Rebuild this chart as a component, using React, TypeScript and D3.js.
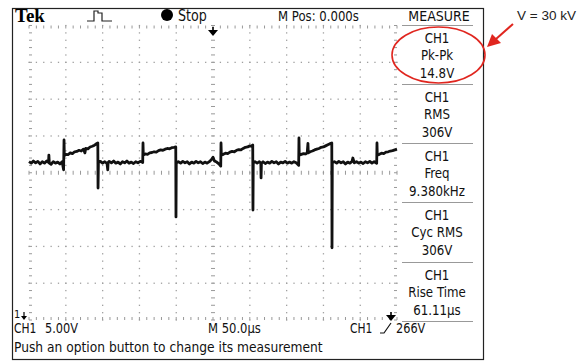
import React, { useEffect, useRef } from "react";
import * as d3 from "d3";

const W = 582;
const H = 363;

// CH1 trace: time in µs (50 µs/div), level in volts (5 V/div)
const trace: [number, number][] = [
  [0, 1.5], [3, 1.3], [6, 1.6], [9, 1.35], [12, 1.55], [15, 1.2], [18, 1.5], [21, 1.3], [24, 1.6],
  [26.5, 1.4], [27, 2.4], [27.6, 1.3], [30, 1.15], [33, 1.5], [36, 1.3], [39, 1.45], [42, 1.2],
  [45, 1.5], [47, 0.4], [47.6, 4.45], [48, 2.3], [50, 2.5], [53, 2.45], [56, 2.7], [59, 2.6],
  [62, 2.85], [65, 2.9], [68, 3.05], [71, 2.95], [74, 3.2], [76, 2.7], [77, 3.3], [80, 3.25],
  [83, 3.5], [86, 3.6], [89, 3.75], [91, 3.9], [93.5, 4.05], [93.8, -2.07], [94.3, 1.4],
  [97, 1.55], [100, 1.3], [103, 1.5], [106, 1.25], [107, 0.4], [107.5, 1.4], [109, 1.55],
  [112, 1.35], [115, 1.6], [118, 1.3], [121, 1.45], [124, 1.2], [127, 1.5], [130, 1.35],
  [133, 1.6], [136, 1.3], [139, 1.45], [142, 1.25], [145, 1.5], [148, 1.35], [151, 1.55],
  [154.5, 1.4], [154.9, 4.04], [155.3, 2.4], [158, 2.55], [161, 2.5], [164, 2.7], [167, 2.75],
  [170, 2.85], [173, 2.8], [176, 3.0], [179, 3.1], [182, 3.05], [185, 3.2], [188, 3.3],
  [191, 3.25], [194, 3.4], [197, 3.45], [199.4, 3.5], [199.7, -6.0], [200.1, 1.3],
  [203, 1.5], [206, 1.3], [209, 1.55], [212, 1.35], [215, 1.5], [218, 1.2], [221, 1.45],
  [224, 1.3], [227, 1.55], [230, 1.35], [233, 1.5], [236, 1.25], [239, 1.45], [242, 1.3],
  [245, 1.5], [248, 1.8], [250, 2.1], [252, 1.6], [255, 1.45], [258, 1.2], [260.5, 0.9],
  [260.9, 4.04], [261.3, 2.4], [264, 2.5], [267, 2.65], [270, 2.6], [273, 2.8], [276, 2.9],
  [279, 2.85], [282, 3.05], [285, 3.15], [288, 3.1], [291, 3.3], [294, 3.45], [297, 3.5],
  [300, 3.65], [302, 3.6], [304, 3.77], [304.3, -5.06], [304.7, 1.4],
  [307, 1.5], [310, 1.3], [313, 1.5], [315, 1.3], [315.3, -0.7], [315.8, 1.3], [318, 1.5],
  [321, 1.25], [324, 1.45], [327, 1.3], [330, 1.55], [333, 1.35], [336, 1.5], [339, 1.2],
  [342, 1.45], [345, 1.35], [348, 1.55], [351, 1.3], [354, 1.45], [357, 1.3], [360, 1.5],
  [363, 1.35], [366.4, 1.0], [366.8, 4.72], [367.2, 2.4], [370, 2.5], [373, 2.6], [376, 2.55],
  [378, 2.7], [379, 4.0], [379.5, 2.7], [382, 2.85], [385, 2.95], [388, 3.1], [391, 3.2],
  [394, 3.3], [397, 3.45], [400, 3.5], [403, 3.65], [406, 3.8], [409, 3.95], [411.4, 4.04],
  [411.7, -10.2], [412.1, 1.4],
  [415, 1.5], [418, 1.3], [421, 1.55], [424, 1.35], [427, 1.5], [430, 1.2], [433, 1.45],
  [436, 1.3], [439, 1.55], [440, 2.0], [442, 1.35], [445, 1.5], [448, 1.3], [451, 1.45],
  [454, 1.25], [457, 1.5], [460, 1.35], [463, 1.55], [466, 1.3], [469, 1.5], [472.4, 1.3],
  [472.8, 4.04], [473.2, 2.4], [476, 2.5], [479, 2.65], [482, 2.6], [485, 2.8], [488, 2.85],
  [491, 2.95], [494, 3.0], [497, 3.1], [500, 3.2],
];

const measureChannel = "CH1";
const measureNames = ["Pk-Pk", "RMS", "Freq", "Cyc RMS", "Rise Time"];
const measureValues = ["14.8V", "306V", "9.380kHz", "306V", "61.11µs"];

const timeDomain = [0, 500]; // 10 div x 50 µs
const voltDomain = [-20, 20]; // 8 div x 5 V
const xDivs = 10;
const yDivs = 8;
const minor = 5;

const sans = "'Liberation Sans Narrow', 'DejaVu Sans Condensed', 'Arial Narrow', sans-serif";

const App = () => {
  const svgRef = useRef(null);

  useEffect(() => {
    const svg = d3.select(svgRef.current);
    svg.selectAll("*").remove();

    const x = d3.scaleLinear().domain(timeDomain).range([29, 397]);
    const y = d3.scaleLinear().domain(voltDomain).range([320, 25.5]);
    const [x0, x1] = x.range();
    const [y1, y0] = y.range();

    // outer screen frame
    svg.append("rect").attr("x", 12.5).attr("y", 8.5).attr("width", 471).attr("height", 351)
      .attr("fill", "none").attr("stroke", "#222").attr("stroke-width", 1.2);

    // graticule
    const g = svg.append("g");
    const xStep = (timeDomain[1] - timeDomain[0]) / (xDivs * minor);
    const yStep = (voltDomain[1] - voltDomain[0]) / (yDivs * minor);
    const xMinor = d3.range(0, xDivs * minor + 1).map((i) => timeDomain[0] + i * xStep);
    const yMinor = d3.range(0, yDivs * minor + 1).map((i) => voltDomain[0] + i * yStep);
    const xMajor = d3.range(1, xDivs).map((i) => timeDomain[0] + i * xStep * minor);
    const yMajor = d3.range(1, yDivs).map((i) => voltDomain[0] + i * yStep * minor);
    const tMid = (timeDomain[0] + timeDomain[1]) / 2;
    const dotCol = "#a0a0a0";

    xMajor.filter((t) => t !== tMid).forEach((t) => {
      yMinor.forEach((v) => {
        g.append("rect").attr("x", x(t) - 0.6).attr("y", y(v) - 0.6).attr("width", 1.3).attr("height", 1.3).attr("fill", dotCol);
      });
    });
    yMajor.filter((v) => v !== 0).forEach((v) => {
      xMinor.forEach((t) => {
        g.append("rect").attr("x", x(t) - 0.6).attr("y", y(v) - 0.6).attr("width", 1.3).attr("height", 1.3).attr("fill", dotCol);
      });
    });
    // centre lines and edges carry minor ticks
    const tick = (ax: number, ay: number, bx: number, by: number) =>
      g.append("line").attr("x1", ax).attr("y1", ay).attr("x2", bx).attr("y2", by)
        .attr("stroke", "#999").attr("stroke-width", 1);
    xMinor.forEach((t) => {
      tick(x(t), y(0) - 2, x(t), y(0) + 2);
      tick(x(t), y0, x(t), y0 + 3);
      tick(x(t), y1 - 3, x(t), y1);
    });
    yMinor.forEach((v) => {
      tick(x(tMid) - 2, y(v), x(tMid) + 2, y(v));
      tick(x0, y(v), x0 + 3, y(v));
      tick(x1 - 3, y(v), x1, y(v));
    });

    // waveform
    const line = d3.line<[number, number]>().x((d) => x(d[0])).y((d) => y(d[1]));
    svg.append("path").datum(trace).attr("d", line).attr("fill", "none")
      .attr("stroke", "#111").attr("stroke-width", 2.8).attr("stroke-linejoin", "round");

    // trigger position arrow (top) and trigger level arrow (bottom right)
    const arrowDown = (cx: number, top: number) => {
      svg.append("line").attr("x1", cx).attr("x2", cx).attr("y1", top).attr("y2", top + 5)
        .attr("stroke", "#000").attr("stroke-width", 1.6);
      svg.append("path").attr("d", `M${cx - 5},${top + 3} L${cx + 5},${top + 3} L${cx},${top + 9} Z`).attr("fill", "#000");
    };
    arrowDown(x(tMid), 27);
    arrowDown(391, 312);

    // header
    svg.append("text").attr("x", 15).attr("y", 22).attr("font-family", "'Liberation Serif', serif")
      .attr("font-weight", "bold").attr("font-size", 19).text("Tek");
    svg.append("path").attr("d", "M87,21 L94,21 L94,11 L98,11 L98,13 L102,13 L102,21 L112,21")
      .attr("fill", "none").attr("stroke", "#222").attr("stroke-width", 1.2);
    svg.append("circle").attr("cx", 167).attr("cy", 15).attr("r", 6).attr("fill", "#000");
    const txt = (tx: number, ty: number, s: string, size = 14, anchor = "start", sx = 0.94) =>
      svg.append("text").attr("transform", `translate(${tx},${ty}) scale(${sx},1)`)
        .attr("font-family", sans).attr("font-size", size)
        .attr("text-anchor", anchor).attr("fill", "#111").text(s);
    txt(178, 21, "Stop", 15);
    txt(278, 21, "M Pos: 0.000s", 14, "start", 0.93);
    txt(439, 21, "MEASURE", 14, "middle", 1);

    // measurement panel
    const sepY = [25.5, 84.5, 143.5, 202.5, 262.5, 321.5];
    sepY.forEach((sy) => {
      svg.append("line").attr("x1", 402).attr("x2", 473).attr("y1", sy).attr("y2", sy)
        .attr("stroke", "#999").attr("stroke-width", 1);
    });
    measureNames.forEach((name, i) => {
      const top = sepY[i];
      txt(437, top + 17, measureChannel, 14, "middle");
      txt(437, top + 34, name, 14, "middle");
      txt(437, top + 52, measureValues[i], 14, "middle");
    });

    // bottom status lines
    txt(14, 318, "1", 11, "start", 1);
    svg.append("line").attr("x1", 24).attr("x2", 24).attr("y1", 312).attr("y2", 318).attr("stroke", "#000").attr("stroke-width", 1.2);
    svg.append("path").attr("d", "M21,316 L27,316 L24,320 Z").attr("fill", "#000");
    txt(14, 333, "CH1", 14, "start", 0.85);
    txt(45, 333, "5.00V", 14, "start", 0.9);
    txt(208, 333, "M 50.0µs", 14, "start", 0.92);
    txt(350, 333, "CH1", 14, "start", 0.85);
    svg.append("path").attr("d", "M380,333 L384,333 L391,323").attr("fill", "none").attr("stroke", "#111").attr("stroke-width", 1.2);
    txt(396, 333, "266V", 14, "start", 0.9);
    txt(14, 352, "Push an option button to change its measurement", 14, "start", 0.975);

    // annotation
    const red = "#e0261f";
    svg.append("ellipse").attr("cx", 438.5).attr("cy", 55).attr("rx", 46.5).attr("ry", 28)
      .attr("fill", "none").attr("stroke", red).attr("stroke-width", 1.6);
    svg.append("line").attr("x1", 513).attr("y1", 24).attr("x2", 496).attr("y2", 39)
      .attr("stroke", red).attr("stroke-width", 2);
    svg.append("path").attr("d", "M487,47 L492,34 L501,43 Z").attr("fill", red);
    svg.append("text").attr("x", 517).attr("y", 20).attr("font-family", "'Liberation Sans', Arial, sans-serif")
      .attr("font-size", 13.5).attr("fill", "#222").text("V = 30 kV");
  }, []);

  return (
    <svg ref={svgRef} width={W} height={H}
      style={{ position: "absolute", left: 0, top: 0, background: "#fff" }} />
  );
};

export default App;
